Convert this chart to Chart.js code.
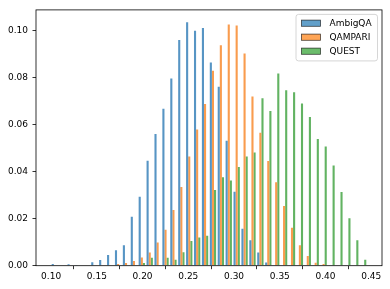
<!DOCTYPE html>
<html>
<head>
<meta charset="utf-8">
<script src="https://cdn.jsdelivr.net/npm/chart.js@4.4.1/dist/chart.umd.min.js"></script>
<style>
  html, body { margin: 0; padding: 0; background: #ffffff; }
  #wrap { width: 390px; height: 289px; }
</style>
</head>
<body>
<div id="wrap"><canvas id="c" width="390" height="289"></canvas></div>
<script>
// Bin centres (x values of the histogram bins)
const binCenters = [
  0.10412, 0.11276, 0.12140, 0.13004, 0.13868, 0.14732, 0.15596, 0.16460,
  0.17324, 0.18188, 0.19052, 0.19916, 0.20780, 0.21644, 0.22508, 0.23372,
  0.24236, 0.25100, 0.25964, 0.26828, 0.27692, 0.28556, 0.29420, 0.30284,
  0.31148, 0.32012, 0.32876, 0.33740, 0.34604, 0.35468, 0.36332, 0.37196,
  0.38060, 0.38924, 0.39788, 0.40652, 0.41516, 0.42380, 0.43244, 0.44108
];
const seriesNames = ["AmbigQA", "QAMPARI", "QUEST"];
const ambigqa = [
  0.0007, 0, 0.0006, 0.0003, 0, 0.0015, 0.0024, 0.0045,
  0.0066, 0.0087, 0.0208, 0.0293, 0.0446, 0.0559, 0.0666, 0.0795,
  0.0958, 0.1034, 0.0997, 0.1009, 0.0863, 0.0760, 0.0530, 0.0314,
  0.0157, 0.0108, 0.0056, 0.0014, 0, 0, 0, 0,
  0, 0, 0, 0, 0, 0, 0, 0
];
const qampari = [
  0, 0, 0, 0, 0, 0, 0, 0,
  0.0007, 0.0011, 0.0020, 0.0035, 0.0056, 0.0098, 0.0153, 0.0236,
  0.0334, 0.0464, 0.0578, 0.0687, 0.0828, 0.0936, 0.1024, 0.1020,
  0.0901, 0.0718, 0.0564, 0.0444, 0.0354, 0.0253, 0.0161, 0.0087,
  0.0041, 0.0012, 0.0007, 0, 0, 0, 0, 0
];
const quest = [
  0, 0, 0, 0, 0, 0, 0, 0,
  0, 0, 0, 0.0011, 0.0034, 0, 0.0034, 0.0025,
  0.0057, 0.0105, 0.0120, 0.0127, 0.0321, 0.0376, 0.0362, 0.0419,
  0.0464, 0.0481, 0.0711, 0.0657, 0.0816, 0.0745, 0.0736, 0.0689,
  0.0631, 0.0538, 0.0506, 0.0425, 0.0313, 0.0201, 0.0108, 0.0025
];
const xTicks = [0.10, 0.15, 0.20, 0.25, 0.30, 0.35, 0.40, 0.45];
const yTicks = [0.00, 0.02, 0.04, 0.06, 0.08, 0.10];

const fills = ["#5795c4", "#f99c4e", "#62b362"];
const legendFills = ["#62a0ca", "#ffa556", "#6bbc6b"];
const FONT = "'DejaVu Sans', 'Liberation Sans', sans-serif";

function toPoints(vals) { return vals.map((v, i) => ({ x: binCenters[i], y: v })); }

const seriesVals = [ambigqa, qampari, quest];
const datasets = seriesNames.map((n, k) => ({
  label: n,
  data: toPoints(seriesVals[k]),
  backgroundColor: fills[k],
  borderWidth: 0,
  categoryPercentage: 0.8,
  barPercentage: 1.0
}));

const framePlugin = {
  id: 'frame',
  afterDatasetsDraw(chart) {
    const { ctx, chartArea: a } = chart;
    ctx.save();
    ctx.strokeStyle = '#000';
    ctx.lineWidth = 0.8;
    ctx.strokeRect(a.left, a.top, a.right - a.left, a.bottom - a.top);
    ctx.restore();
  },
  afterDraw(chart) {
    const { ctx, chartArea: a } = chart;
    const ds = chart.data.datasets;
    const w = 81.5, h = 46.5;
    const x0 = a.right - 4.5 - w, y0 = a.top + 4.5;
    ctx.save();
    const r = 2.5;
    ctx.beginPath();
    ctx.moveTo(x0 + r, y0);
    ctx.lineTo(x0 + w - r, y0);
    ctx.arcTo(x0 + w, y0, x0 + w, y0 + r, r);
    ctx.lineTo(x0 + w, y0 + h - r);
    ctx.arcTo(x0 + w, y0 + h, x0 + w - r, y0 + h, r);
    ctx.lineTo(x0 + r, y0 + h);
    ctx.arcTo(x0, y0 + h, x0, y0 + h - r, r);
    ctx.lineTo(x0, y0 + r);
    ctx.arcTo(x0, y0, x0 + r, y0, r);
    ctx.closePath();
    ctx.fillStyle = 'rgba(255,255,255,0.8)';
    ctx.fill();
    ctx.strokeStyle = '#cccccc';
    ctx.lineWidth = 0.8;
    ctx.stroke();
    ctx.font = '9px ' + FONT;
    ctx.textBaseline = 'middle';
    ctx.textAlign = 'left';
    for (let i = 0; i < ds.length; i++) {
      const cy = y0 + 8.7 + i * 14;
      ctx.fillStyle = legendFills[i];
      ctx.fillRect(x0 + 5.5, cy - 3, 19, 6.2);
      ctx.strokeStyle = 'rgba(0,0,0,0.7)';
      ctx.lineWidth = 0.8;
      ctx.strokeRect(x0 + 5.5, cy - 3, 19, 6.2);
      ctx.fillStyle = '#000';
      ctx.fillText(ds[i].label, x0 + 33.5, cy + 0.5);
    }
    ctx.restore();
  }
};

new Chart(document.getElementById('c'), {
  type: 'bar',
  data: { datasets },
  options: {
    responsive: false,
    devicePixelRatio: 1,
    animation: false,
    layout: { padding: { left: 0, right: 8, top: 6.7, bottom: 0 } },
    plugins: { legend: { display: false }, tooltip: { enabled: false } },
    scales: {
      x: {
        type: 'linear',
        min: 0.0835,
        max: 0.4617,
        offset: false,
        afterBuildTicks: (s) => { s.ticks = xTicks.map(v => ({ value: v })); },
        afterFit: (s) => { s.height = 23.3; },
        grid: { display: true, drawOnChartArea: false, drawTicks: true, tickLength: 3.5, color: '#000', lineWidth: 0.8 },
        border: { display: false },
        ticks: {
          color: '#000', padding: 2, maxRotation: 0, autoSkip: false,
          font: { family: FONT, size: 9 },
          callback: (v) => Number(v).toFixed(2)
        }
      },
      y: {
        type: 'linear',
        min: 0,
        max: 0.1086,
        afterBuildTicks: (s) => { s.ticks = yTicks.map(v => ({ value: v })); },
        afterFit: (s) => { s.width = 36; },
        grid: { display: true, drawOnChartArea: false, drawTicks: true, tickLength: 3.5, color: '#000', lineWidth: 0.8 },
        border: { display: false },
        ticks: {
          color: '#000', padding: 4.5,
          font: { family: FONT, size: 9 },
          callback: (v) => Number(v).toFixed(2)
        }
      }
    }
  },
  plugins: [framePlugin]
});
</script>
</body>
</html>
